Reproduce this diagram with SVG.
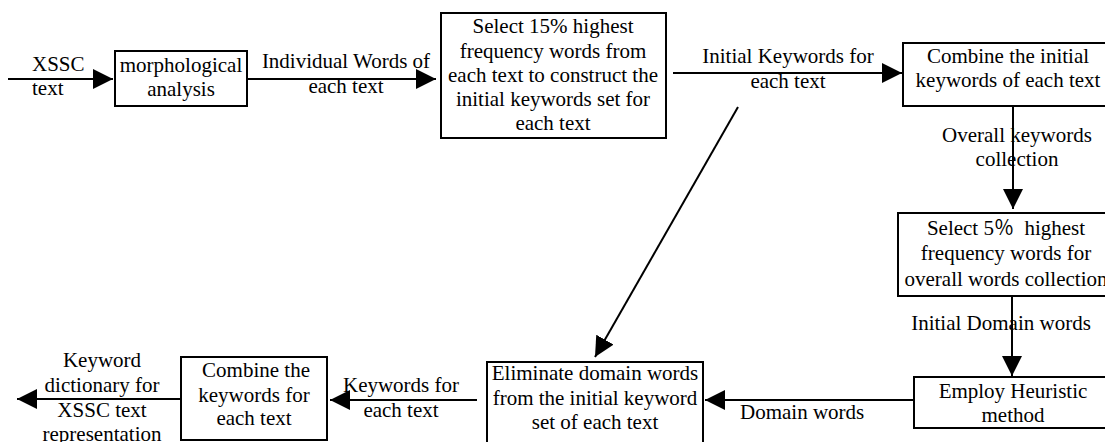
<svg xmlns="http://www.w3.org/2000/svg" width="1105" height="442" viewBox="0 0 1105 442">
<defs>
<marker id="ah" viewBox="0 0 20 20" refX="20" refY="10" markerWidth="20" markerHeight="20" markerUnits="userSpaceOnUse" orient="auto">
<path d="M0,0 L20,10 L0,20 Z" fill="#000"/>
</marker>
<style>
text{font-family:"Liberation Serif","Times New Roman","DejaVu Serif",serif;font-size:21px;fill:#000}
.c{text-anchor:middle}
.cjk{font-family:"Noto Sans CJK SC",sans-serif;font-size:20px}
rect{fill:#fff;stroke:#000;stroke-width:2}
line{stroke:#000;stroke-width:2;marker-end:url(#ah)}
</style>
</defs>
<rect x="0" y="0" width="1105" height="442" style="fill:#fff;stroke:none"/>
<g id="connectors">
<line x1="8" y1="79" x2="113" y2="79"/>
<line x1="247" y1="79" x2="436" y2="79"/>
<line x1="673" y1="73" x2="902" y2="73"/>
<line x1="1013" y1="106" x2="1013" y2="209"/>
<line x1="1012" y1="296" x2="1012" y2="376"/>
<line x1="914" y1="400" x2="705" y2="400"/>
<line x1="738" y1="107" x2="595" y2="357"/>
<line x1="477" y1="400" x2="330" y2="400"/>
<line x1="180" y1="399" x2="17" y2="399"/>
</g>
<g id="labels">
<text x="32" y="71">XSSC</text>
<text x="32" y="95">text</text>
<text class="c" x="346" y="68">Individual Words of</text>
<text class="c" x="346" y="93">each text</text>
<text class="c" x="788" y="63">Initial Keywords for</text>
<text class="c" x="788" y="88">each text</text>
<text class="c" x="1017" y="142">Overall keywords</text>
<text class="c" x="1017" y="166">collection</text>
<text class="c" x="1001" y="330">Initial Domain words</text>
<text x="740" y="419">Domain words</text>
<text class="c" x="401" y="392">Keywords for</text>
<text class="c" x="401" y="417">each text</text>
<text class="c" x="102" y="367">Keyword</text>
<text class="c" x="102" y="392">dictionary for</text>
<text class="c" x="102" y="417">XSSC text</text>
<text class="c" x="102" y="441">representation</text>
</g>
<g id="morph">
<rect x="115" y="51" width="132" height="55"/>
<text class="c" x="181" y="72">morphological</text>
<text class="c" x="181" y="96">analysis</text>
</g>
<g id="select15">
<rect x="441" y="13" width="225" height="125"/>
<text class="c" x="553" y="33">Select 15% highest</text>
<text class="c" x="553" y="58">frequency words from</text>
<text class="c" x="553" y="82">each text to construct the</text>
<text class="c" x="553" y="106">initial keywords set for</text>
<text class="c" x="553" y="130">each text</text>
</g>
<g id="combine-initial">
<rect x="903" y="43" width="210" height="63"/>
<text class="c" x="1008" y="63">Combine the initial</text>
<text class="c" x="1008" y="87">keywords of each text</text>
</g>
<g id="select5">
<rect x="898" y="213" width="216" height="83"/>
<text class="c" x="1006" y="235" xml:space="preserve">Select 5<tspan class="cjk">％</tspan>  highest</text>
<text class="c" x="1006" y="260">frequency words for</text>
<text class="c" x="1006" y="286">overall words collection</text>
</g>
<g id="employ">
<rect x="914" y="377" width="198" height="51"/>
<text class="c" x="1013" y="398">Employ Heuristic</text>
<text class="c" x="1013" y="422">method</text>
</g>
<g id="eliminate">
<rect x="487" y="362" width="216" height="90"/>
<text class="c" x="595" y="380">Eliminate domain words</text>
<text class="c" x="595" y="405">from the initial keyword</text>
<text class="c" x="595" y="429">set of each text</text>
</g>
<g id="combine-keywords">
<rect x="181" y="357" width="146" height="83"/>
<text class="c" x="256" y="377">Combine the</text>
<text class="c" x="254" y="402">keywords for</text>
<text class="c" x="254" y="425">each text</text>
</g>
</svg>
